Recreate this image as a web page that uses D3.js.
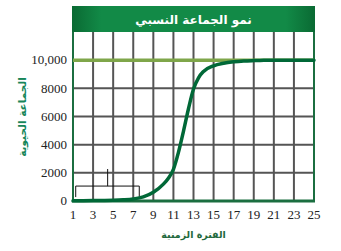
<!DOCTYPE html>
<html>
<head>
<meta charset="utf-8">
<script src="https://cdn.jsdelivr.net/npm/d3@7"></script>
<style>
    body { margin: 0; background: #fff; }
    svg { display: block; }
</style>
</head>
<body>
<svg id="chart" width="341" height="251"></svg>
<script>
// data
const title = "نمو الجماعة النسبي";
const xTitle = "الفترة الزمنية";
const yTitle = "الجماعة الحيوية";

const periods = [1, 2, 3, 4, 5, 6, 7, 8, 9, 10, 10.5, 11, 11.5, 12, 12.5, 13, 13.5, 14, 15, 16, 17, 18, 19, 20, 21, 22, 23, 24, 25];
const population = [10, 20, 30, 40, 55, 85, 145, 290, 620, 1200, 1620, 2250, 3450, 4950, 6550, 7950, 8750, 9200, 9600, 9780, 9880, 9940, 9970, 9990, 10000, 10000, 10000, 10000, 10000];
const carryingCapacity = 10000;

const xTicks = [1, 3, 5, 7, 9, 11, 13, 15, 17, 19, 21, 23, 25];
const yTicks = [0, 2000, 4000, 6000, 8000, 10000];
const yTickLabels = ["0", "2000", "4000", "6000", "8000", "10,000"];

// bracket marking the lag phase: [x, y] points
const bracketBar = [[1.27, 280], [1.27, 1060], [7.6, 1060], [7.6, 300]];
const bracketStem = [[4.45, 1060], [4.45, 2270]];

const canvas = d3.select("#chart");

const pLeft = 73, pRight = 314; // plot edges
const pTop = 32, pBottom = 201;
const bannerTop = 6;

const x = d3.scaleLinear().domain([1, 25]).range([pLeft, pRight]);
const y = d3.scaleLinear().domain([0, 12000]).range([pBottom, pTop]);

// banner gradient
const defs = canvas.append("defs");
const grad = defs.append("linearGradient").attr("id", "banner");
grad.append("stop").attr("offset", "0%").attr("stop-color", "#0a6a33");
grad.append("stop").attr("offset", "12%").attr("stop-color", "#128a47");
grad.append("stop").attr("offset", "88%").attr("stop-color", "#128a47");
grad.append("stop").attr("offset", "100%").attr("stop-color", "#0a6a33");

// gray grid
canvas.append("g")
    .selectAll("line")
    .data(xTicks.slice(1, -1))
    .enter()
    .append("line")
    .attr("x1", (d) => x(d))
    .attr("x2", (d) => x(d))
    .attr("y1", pTop)
    .attr("y2", pBottom)
    .attr("stroke", "#555")
    .attr("stroke-width", 2);

canvas.append("g")
    .selectAll("line")
    .data(yTicks.slice(1))
    .enter()
    .append("line")
    .attr("x1", pLeft)
    .attr("x2", pRight)
    .attr("y1", (d) => y(d))
    .attr("y2", (d) => y(d))
    .attr("stroke", "#555")
    .attr("stroke-width", 2);

// green frame
canvas.append("line")
    .attr("x1", pLeft).attr("x2", pLeft)
    .attr("y1", pTop).attr("y2", pBottom)
    .attr("stroke", "#1b6e40").attr("stroke-width", 2);
canvas.append("line")
    .attr("x1", pRight).attr("x2", pRight)
    .attr("y1", pTop).attr("y2", pBottom)
    .attr("stroke", "#1b6e40").attr("stroke-width", 2);

// carrying capacity line
canvas.append("line")
    .attr("x1", pLeft)
    .attr("x2", pRight)
    .attr("y1", y(carryingCapacity))
    .attr("y2", y(carryingCapacity))
    .attr("stroke", "#7fa64a")
    .attr("stroke-width", 3.5);

canvas.append("line")
    .attr("x1", pLeft - 1).attr("x2", pRight + 1)
    .attr("y1", pBottom).attr("y2", pBottom)
    .attr("stroke", "#1b6e40").attr("stroke-width", 3);

// bracket annotation
const bracketLine = d3.line().x((d) => x(d[0])).y((d) => y(d[1]));
canvas.append("path")
    .attr("d", bracketLine(bracketBar))
    .attr("fill", "none")
    .attr("stroke", "#111")
    .attr("stroke-width", 1);
canvas.append("path")
    .attr("d", bracketLine(bracketStem))
    .attr("fill", "none")
    .attr("stroke", "#111")
    .attr("stroke-width", 1);

// growth curve
const growth = d3.line()
    .x((d, i) => x(periods[i]))
    .y((d) => y(d))
    .curve(d3.curveMonotoneX);

canvas.append("path")
    .attr("d", growth(population))
    .attr("fill", "none")
    .attr("stroke", "#006837")
    .attr("stroke-width", 3.5)
    .attr("stroke-linecap", "round");

// title banner
canvas.append("rect")
    .attr("x", pLeft - 1)
    .attr("y", bannerTop)
    .attr("width", pRight - pLeft + 2)
    .attr("height", pTop - bannerTop)
    .attr("fill", "url(#banner)");

canvas.append("text")
    .attr("x", (pLeft + pRight) / 2)
    .attr("y", 24)
    .attr("text-anchor", "middle")
    .attr("font-family", "DejaVu Sans")
    .attr("font-weight", "bold")
    .attr("font-size", 12)
    .attr("fill", "#fff")
    .text(title);

// tick labels
canvas.append("g")
    .selectAll("text")
    .data(yTicks)
    .enter()
    .append("text")
    .attr("x", 67)
    .attr("y", (d) => y(d))
    .attr("dy", "0.33em")
    .attr("text-anchor", "end")
    .attr("font-family", "Liberation Serif")
    .attr("font-size", 13)
    .attr("fill", "#222")
    .text((d, i) => yTickLabels[i]);

canvas.append("g")
    .selectAll("text")
    .data(xTicks)
    .enter()
    .append("text")
    .attr("x", (d) => x(d))
    .attr("y", 219)
    .attr("text-anchor", "middle")
    .attr("font-family", "Liberation Serif")
    .attr("font-size", 13)
    .attr("fill", "#222")
    .text((d) => d);

// axis titles
canvas.append("text")
    .attr("x", (pLeft + pRight) / 2)
    .attr("y", 238)
    .attr("text-anchor", "middle")
    .attr("font-family", "DejaVu Sans")
    .attr("font-weight", "bold")
    .attr("font-size", 9.5)
    .attr("fill", "#1f6a3c")
    .text(xTitle);

canvas.append("text")
    .attr("transform", "translate(26, 117) rotate(-90)")
    .attr("text-anchor", "middle")
    .attr("font-family", "DejaVu Sans")
    .attr("font-weight", "bold")
    .attr("font-size", 10.5)
    .attr("fill", "#17865a")
    .text(yTitle);
</script>
</body>
</html>
